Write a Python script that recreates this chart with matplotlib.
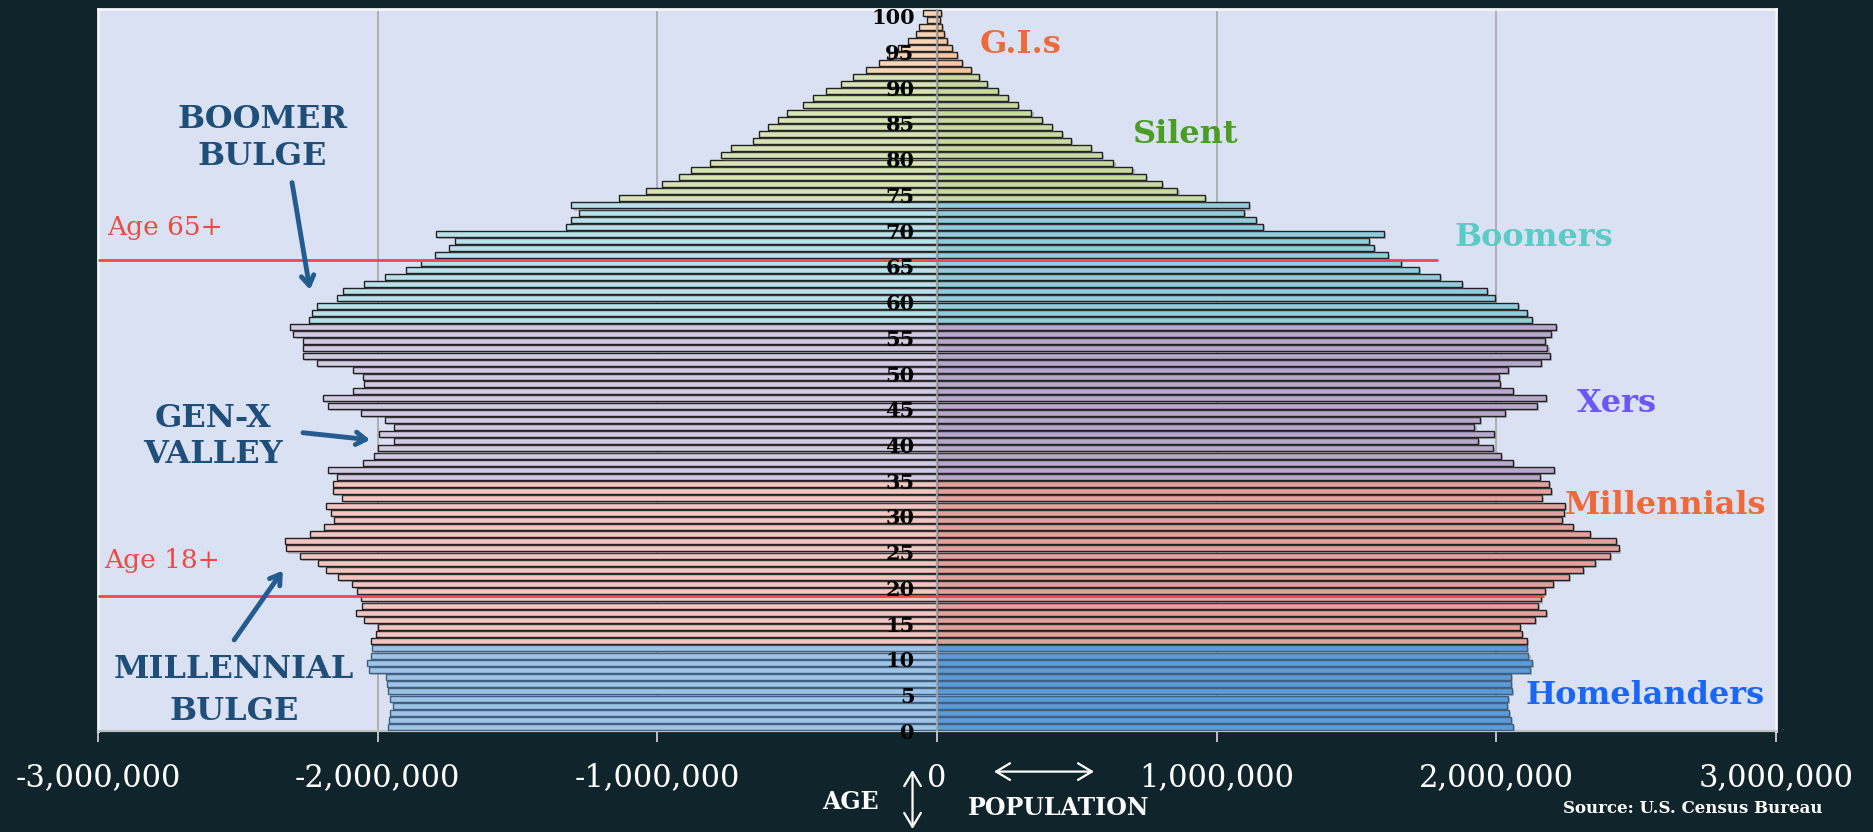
import bisect
import matplotlib
matplotlib.use("Agg")
import matplotlib.pyplot as plt
import matplotlib.patheffects as pe
from matplotlib.patches import FancyArrowPatch
from matplotlib.ticker import FuncFormatter

# ---------------- data (population in thousands) ----------------
ages = list(range(101))

left_k = [-1962, -1958, -1955, -1946, -1955, -1962, -1968, -1971, -2031, -2039,
          -2022, -2019, -2022, -2006, -1999, -2047, -2076, -2055, -2061, -2073,
          -2090, -2141, -2184, -2213, -2278, -2327, -2330, -2241, -2192, -2157,
          -2165, -2186, -2128, -2161, -2160, -2144, -2176, -2051, -2014, -1999,
          -1941, -1996, -1941, -1974, -2060, -2178, -2197, -2087, -2048, -2051,
          -2087, -2217, -2267, -2267, -2267, -2301, -2314, -2246, -2235, -2217,
          -2144, -2124, -2048, -1974, -1898, -1844, -1796, -1744, -1724, -1793,
          -1326, -1310, -1279, -1307, -1138, -1040, -983, -923, -881, -810,
          -773, -738, -657, -637, -603, -570, -536, -479, -442, -396,
          -344, -302, -253, -208, -171, -141, -103, -76, -65, -35, -50]

right_k = [2058, 2051, 2046, 2037, 2041, 2055, 2051, 2051, 2119, 2128,
           2115, 2110, 2110, 2092, 2086, 2137, 2179, 2150, 2161, 2174,
           2201, 2261, 2311, 2353, 2407, 2438, 2429, 2334, 2274, 2234,
           2241, 2247, 2164, 2194, 2187, 2156, 2207, 2061, 2015, 1988,
           1933, 1991, 1922, 1942, 2031, 2146, 2177, 2059, 2013, 2010,
           2043, 2161, 2192, 2183, 2174, 2196, 2214, 2128, 2110, 2077,
           1995, 1968, 1876, 1800, 1723, 1659, 1614, 1563, 1544, 1599,
           1165, 1139, 1099, 1114, 958, 860, 804, 747, 699, 631,
           589, 549, 478, 446, 410, 376, 338, 290, 255, 218,
           180, 150, 120, 90, 70, 52, 37, 25, 17, 12, 14]

gen_names = ["Homelanders", "Millennials", "Xers", "Boomers", "Silent", "G.I.s"]
gen_first_age = [0, 12, 35, 57, 74, 92]

x_ticks = [-3000000, -2000000, -1000000, 0, 1000000, 2000000, 3000000]
age_ticks = list(range(0, 101, 5))

# ---------------- styles ----------------
left_colors = ["#9EC4E8", "#F3C6C2", "#D3CBE3", "#B9E1EB", "#D9E4B6", "#F9D5B8"]
right_colors = ["#5B9BD8", "#E3A29E", "#B7A8CC", "#93CDDD", "#C9DAA2", "#F6C7A2"]
edge_colors = ["#3F5F82", "#222222", "#222222", "#222222", "#222222", "#222222"]
label_colors = ["#1B66F5", "#EF6A3A", "#6A57F5", "#5CCBC8", "#4A9E22", "#EF6A3A"]

FIG_BG = "#10252B"
PLOT_BG = "#D9E1F2"
NAVY = "#1F4E79"
ARROW = "#245C8F"
RED = "#EC4A42"
SERIF = "DejaVu Serif"

fig = plt.figure(figsize=(18.73, 8.32), dpi=100, facecolor=FIG_BG)
ax = fig.add_axes([0.0523, 0.1218, 0.8959, 0.8674])
ax.set_facecolor(PLOT_BG)

gidx = [bisect.bisect_right(gen_first_age, a) - 1 for a in ages]
lvals = [v * 1000 for v in left_k]
rvals = [v * 1000 for v in right_k]

shadow = [pe.SimplePatchShadow(offset=(1.5, -1.5), shadow_rgbFace="#666666", alpha=0.35), pe.Normal()]
for vals, cols in ((lvals, left_colors), (rvals, right_colors)):
    bars = ax.barh(ages, vals, height=0.84,
                   color=[cols[g] for g in gidx],
                   edgecolor=[edge_colors[g] for g in gidx],
                   linewidth=1.0, zorder=3)
    for b in bars:
        b.set_path_effects(shadow)

ax.set_xlim(-3000000, 3000000)
ax.set_ylim(-0.5, 100.5)
ax.set_xticks(x_ticks)
ax.xaxis.set_major_formatter(FuncFormatter(lambda v, p: f"{int(round(v)):,}"))
ax.set_yticks([])
ax.grid(axis="x", color="#A6A6A6", linewidth=1.2, zorder=1)
ax.set_axisbelow(True)
ax.axvline(0, color="#AAAAAA", linewidth=1.6, alpha=0.85, zorder=4)

for s in ("top", "left", "right"):
    ax.spines[s].set_color("#F4F6FA")
    ax.spines[s].set_linewidth(2)
ax.spines["bottom"].set_color("#BFBFBF")
ax.spines["bottom"].set_linewidth(1.6)
ax.tick_params(axis="x", direction="out", length=8, width=1.4, color="#BFBFBF",
               labelcolor="white", labelsize=22, pad=15)
for t in ax.get_xticklabels():
    t.set_family(SERIF)

# age labels
for a in age_ticks:
    ax.text(-80000, a - 0.8, str(a), ha="right", va="center", fontsize=15,
            fontweight="bold", family=SERIF, color="black", zorder=6, clip_on=False)

# age threshold lines
ax.plot([-3000000, 1790000], [65.4, 65.4], color=RED, linewidth=2, zorder=5, solid_capstyle="butt")
ax.plot([-3000000, 2170000], [18.4, 18.4], color=RED, linewidth=2, zorder=5, solid_capstyle="butt")
ax.text(-2967000, 69.9, "Age 65+", ha="left", va="center", fontsize=19, family=SERIF, color=RED, zorder=6)
ax.text(-2978000, 23.3, "Age 18+", ha="left", va="center", fontsize=19, family=SERIF, color=RED, zorder=6)

# generation labels
gen_label_pos = {"G.I.s": (298000, 95.5), "Silent": (888000, 82.9), "Boomers": (2136000, 68.5),
                 "Xers": (2433000, 45.3), "Millennials": (2603000, 31.0), "Homelanders": (2533000, 4.4)}
for name, col in zip(gen_names, label_colors):
    x, y = gen_label_pos[name]
    ax.text(x, y, name, ha="center", va="center", fontsize=23, fontweight="bold",
            family=SERIF, color=col, zorder=6)

# left annotations
for txt, x, y in (("BOOMER", -2411000, 85.0), ("BULGE", -2411000, 79.8),
                  ("GEN-X", -2589000, 43.2), ("VALLEY", -2589000, 38.1),
                  ("MILLENNIAL", -2513000, 8.1), ("BULGE", -2513000, 2.2)):
    ax.text(x, y, txt, ha="center", va="center", fontsize=23, fontweight="bold",
            family=SERIF, color=NAVY, zorder=6)

aprops = dict(arrowstyle="->,head_length=0.7,head_width=0.45", color=ARROW, lw=3.5,
              shrinkA=0, shrinkB=0)
ax.annotate("", xy=(-2242000, 61.2), xytext=(-2306000, 76.2), arrowprops=aprops, zorder=6)
ax.annotate("", xy=(-2027000, 40.2), xytext=(-2267000, 41.2), arrowprops=aprops, zorder=6)
ax.annotate("", xy=(-2339000, 21.9), xytext=(-2513000, 12.2), arrowprops=aprops, zorder=6)

# bottom annotations
fig.text(0.4538, 0.0361, "AGE", ha="center", va="center", fontsize=17, fontweight="bold",
         family=SERIF, color="white")
fig.text(0.5654, 0.0294, "POPULATION", ha="center", va="center", fontsize=17, fontweight="bold",
         family=SERIF, color="white")
fig.text(0.9728, 0.028, "Source: U.S. Census Bureau", ha="right", va="center", fontsize=12,
         fontweight="bold", family=SERIF, color="white")
wstyle = "<->,head_length=0.5,head_width=0.3"
fig.add_artist(FancyArrowPatch((0.5307, 0.0726), (0.5841, 0.0726), transform=fig.transFigure,
                               arrowstyle=wstyle, mutation_scale=20, color="white", lw=1.6,
                               shrinkA=0, shrinkB=0))
fig.add_artist(FancyArrowPatch((0.4872, 0.0745), (0.4872, 0.0036), transform=fig.transFigure,
                               arrowstyle=wstyle, mutation_scale=20, color="white", lw=1.6,
                               shrinkA=0, shrinkB=0))

fig.savefig("out.png", dpi=100, facecolor=FIG_BG)
